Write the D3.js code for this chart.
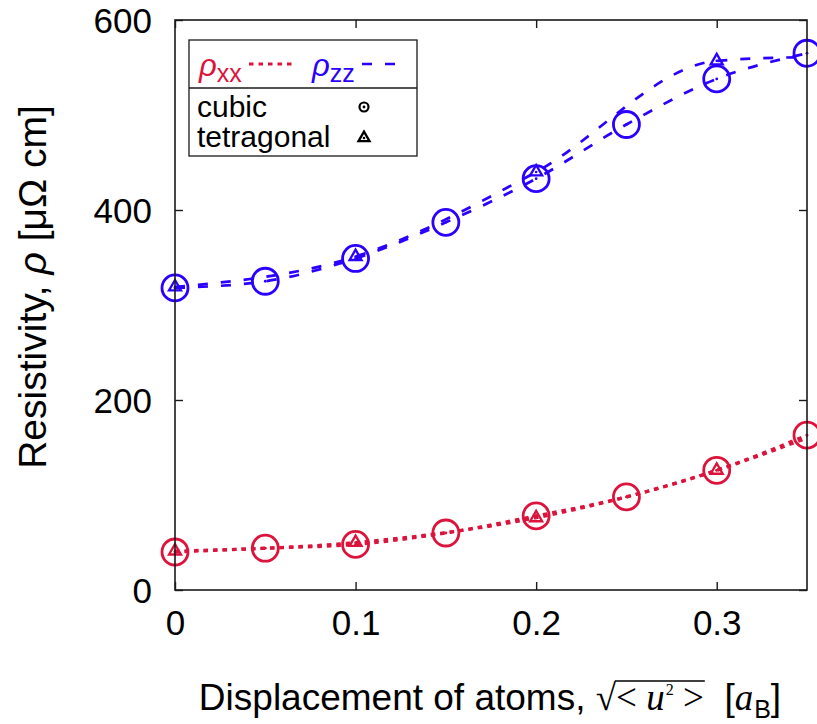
<!DOCTYPE html>
<html>
<head>
<meta charset="utf-8">
<script src="https://cdn.jsdelivr.net/npm/d3@7/dist/d3.min.js"></script>
<style>
  html, body { margin: 0; padding: 0; background: #fff; }
  svg { display: block; }
</style>
</head>
<body>
<svg id="chart" width="817" height="724"></svg>
<script>
// Resistivity vs. root-mean-square atomic displacement
const cubicX = [0, 0.05, 0.1, 0.15, 0.2, 0.25, 0.3, 0.35];
const rhoXXcubic = [40, 44, 48, 60, 78, 98, 126, 163];
const rhoZZcubic = [318, 325, 349, 387, 433, 490, 538, 565];

const tetraX = [0, 0.1, 0.2, 0.3, 0.35];
const rhoXXtetra = [41, 50, 76, 126, 160];
const rhoZZtetra = [319, 351, 440, 557, 561];
// tetragonal symbols are shown at these displacements only
const tetraMarkX = [0, 0.1, 0.2, 0.3];

const xTicks = [0, 0.1, 0.2, 0.3];
const xTickLabels = ["0", "0.1", "0.2", "0.3"];
const yTicks = [0, 200, 400, 600];

const RED = "#dc143c";
const BLUE = "#2a00ff";
const SANS = "'Liberation Sans', Arial, Helvetica, sans-serif";
const SERIF = "'Liberation Serif', 'Times New Roman', serif";
const FS = 35;

const svg = d3.select("#chart");
const M = { left: 175, right: 807, top: 20, bottom: 590 };

const x = d3.scaleLinear().domain([0, 0.35]).range([M.left, M.right]);
const y = d3.scaleLinear().domain([0, 600]).range([M.bottom, M.top]);

// ---- curves ----
const line = d3.line().x(d => x(d[0])).y(d => y(d[1])).curve(d3.curveMonotoneX);
const zip = (xs, ys) => xs.map((v, i) => [v, ys[i]]);

const series = [
  { pts: zip(tetraX, rhoZZtetra), color: BLUE, dash: "10,13", w: 2.7 },
  { pts: zip(cubicX, rhoZZcubic), color: BLUE, dash: "10,13", w: 2.7 },
  { pts: zip(tetraX, rhoXXtetra), color: RED, dash: "4.5,5", w: 3.2 },
  { pts: zip(cubicX, rhoXXcubic), color: RED, dash: "4.5,5", w: 3.2 }
];
svg.append("g").selectAll("path").data(series).join("path")
  .attr("d", d => line(d.pts))
  .attr("fill", "none")
  .attr("stroke", d => d.color)
  .attr("stroke-width", d => d.w)
  .attr("stroke-dasharray", d => d.dash);

// ---- markers ----
function circleMarker(g, cx, cy, r, color, sw) {
  g.append("circle").attr("cx", cx).attr("cy", cy).attr("r", r)
    .attr("fill", "none").attr("stroke", color).attr("stroke-width", sw);
  g.append("circle").attr("cx", cx).attr("cy", cy).attr("r", 1.4).attr("fill", color);
}
function triMarker(g, cx, cy, s, color, sw) {
  const h = s * Math.sqrt(3) / 2;
  const p = [[cx - s / 2, cy + h / 3], [cx + s / 2, cy + h / 3], [cx, cy - 2 * h / 3]];
  g.append("path").attr("d", "M" + p.map(q => q.join(",")).join("L") + "Z")
    .attr("fill", "none").attr("stroke", color).attr("stroke-width", sw)
    .attr("stroke-linejoin", "miter");
  g.append("circle").attr("cx", cx).attr("cy", cy).attr("r", 1.3).attr("fill", color);
}

const mk = svg.append("g");
cubicX.forEach((v, i) => {
  circleMarker(mk, x(v), y(rhoZZcubic[i]), 13, BLUE, 2.8);
  circleMarker(mk, x(v), y(rhoXXcubic[i]), 13, RED, 2.8);
});
tetraMarkX.forEach(v => {
  const i = tetraX.indexOf(v);
  triMarker(mk, x(v), y(rhoZZtetra[i]), 12, BLUE, 2.3);
  triMarker(mk, x(v), y(rhoXXtetra[i]), 12, RED, 2.3);
});

// ---- frame & axes ----
const axG = svg.append("g");
axG.append("rect")
  .attr("x", M.left).attr("y", M.top)
  .attr("width", M.right - M.left).attr("height", M.bottom - M.top)
  .attr("fill", "none").attr("stroke", "#1a1a1a").attr("stroke-width", 1.6);

const TL = 8;
// inward ticks on all four sides
const bottomAx = d3.axisBottom(x).tickValues(xTicks).tickSize(-TL).tickFormat((d, i) => xTickLabels[i]).tickPadding(32);
const topAx = d3.axisTop(x).tickValues(xTicks).tickSize(-TL).tickFormat("");
const leftAx = d3.axisLeft(y).tickValues(yTicks).tickSize(-TL).tickPadding(23);
const rightAx = d3.axisRight(y).tickValues(yTicks).tickSize(-TL).tickFormat("");

function styleAxis(g) {
  g.select(".domain").remove();
  g.selectAll(".tick line").attr("stroke", "#1a1a1a").attr("stroke-width", 1.4);
  g.selectAll(".tick text").attr("fill", "#000").style("font-family", SANS).style("font-size", FS + "px");
}
axG.append("g").attr("transform", `translate(0,${M.bottom})`).call(bottomAx).call(styleAxis);
axG.append("g").attr("transform", `translate(0,${M.top})`).call(topAx).call(styleAxis);
axG.append("g").attr("transform", `translate(${M.left},0)`).call(leftAx).call(styleAxis);
axG.append("g").attr("transform", `translate(${M.right},0)`).call(rightAx).call(styleAxis);
axG.selectAll(".tick text").attr("dy", "0.36em");

// ---- y axis title ----
const yl = svg.append("text")
  .attr("transform", "translate(46,287) rotate(-90)")
  .attr("text-anchor", "middle")
  .style("font-family", SANS).style("font-size", "39px").attr("fill", "#000");
yl.append("tspan").text("Resistivity, ");
yl.append("tspan").style("font-style", "italic").text("ρ");
yl.append("tspan").text(" [μΩ cm]");

// ---- x axis title, assembled piece by piece ----
const xl = svg.append("g");
let cursor = 0;
const baseY = 710;
const XFS = 37;
function piece(txt, opts = {}) {
  const t = xl.append("text")
    .attr("x", cursor).attr("y", baseY + (opts.dy || 0))
    .style("font-family", opts.family || SANS)
    .style("font-size", (opts.size || XFS) + "px")
    .style("font-style", opts.italic ? "italic" : "normal")
    .attr("fill", "#000")
    .style("white-space", "pre")
    .text(txt);
  const w = t.node().getComputedTextLength();
  const start = cursor;
  cursor += w + (opts.after || 0);
  return { start, end: cursor };
}
piece("Displacement of atoms, ");
const rad = piece("√", { family: SERIF });
piece("< ", { family: SERIF });
piece("u", { family: SERIF, italic: true, after: 1 });
piece("2", { family: SERIF, size: 16, dy: -15 });
const o2 = piece(" >", { family: SERIF });
piece("  [", {});
piece("a", { family: SERIF, italic: true, after: 1 });
piece("B", { size: 25, dy: 8 });
piece("]", {});
// overline of the radical
xl.append("line")
  .attr("x1", rad.end - 1).attr("x2", o2.end + 1)
  .attr("y1", baseY - 29).attr("y2", baseY - 29)
  .attr("stroke", "#000").attr("stroke-width", 1.4);
xl.attr("transform", `translate(${490 - cursor / 2},0)`);

// ---- legend ----
const lg = svg.append("g");
lg.append("rect").attr("x", 189).attr("y", 40).attr("width", 228).attr("height", 116)
  .attr("fill", "#fff").attr("stroke", "#1a1a1a").attr("stroke-width", 1.3);
lg.append("line").attr("x1", 189).attr("x2", 417).attr("y1", 88).attr("y2", 88)
  .attr("stroke", "#1a1a1a").attr("stroke-width", 1.3);

function rhoLabel(x0, sub, color) {
  const t = lg.append("text").attr("x", x0).attr("y", 76)
    .style("font-family", SANS).style("font-size", "31px").attr("fill", color);
  t.append("tspan").style("font-style", "italic").text("ρ");
  t.append("tspan").attr("dy", 6).style("font-size", "25px").text(sub);
}
rhoLabel(199, "xx", RED);
lg.append("line").attr("x1", 249).attr("x2", 293).attr("y1", 64).attr("y2", 64)
  .attr("stroke", RED).attr("stroke-width", 3.2).attr("stroke-dasharray", "4.5,5");
rhoLabel(312, "zz", BLUE);
lg.append("line").attr("x1", 362).attr("x2", 400).attr("y1", 64).attr("y2", 64)
  .attr("stroke", BLUE).attr("stroke-width", 2.7).attr("stroke-dasharray", "10,13");

lg.append("text").attr("x", 197).attr("y", 117)
  .style("font-family", SANS).style("font-size", "30px").attr("fill", "#000").text("cubic");
lg.append("text").attr("x", 197).attr("y", 147)
  .style("font-family", SANS).style("font-size", "30px").attr("fill", "#000").text("tetragonal");
circleMarker(lg, 364, 107, 4.5, "#000", 2.2);
triMarker(lg, 364, 138, 11, "#000", 2.3);
</script>
</body>
</html>
